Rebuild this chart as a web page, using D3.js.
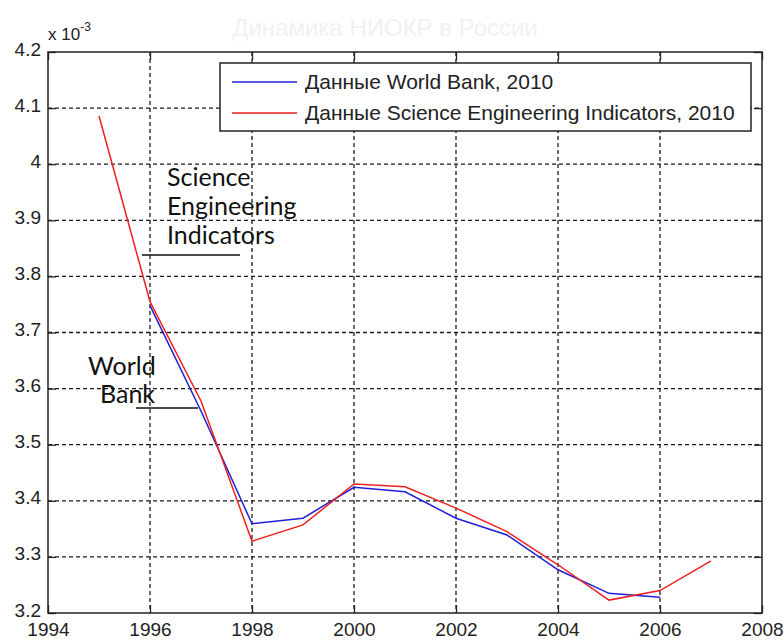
<!DOCTYPE html>
<html>
<head>
<meta charset="utf-8">
<script src="https://cdn.jsdelivr.net/npm/d3@7"></script>
<style>
  html, body { margin: 0; padding: 0; background: #fff; }
  svg { display: block; }
</style>
</head>
<body>
<svg id="chart" width="784" height="644"></svg>
<script>
// R&D intensity series, values in units of 1e-3
const seiYears  = [1995, 1996, 1997, 1998, 1999, 2000, 2001, 2002, 2003, 2004, 2005, 2006, 2007];
const seiValues = [4.086, 3.755, 3.578, 3.328, 3.357, 3.430, 3.425, 3.387, 3.345, 3.286, 3.223, 3.240, 3.293];
const wbYears   = [1996, 1997, 1998, 1999, 2000, 2001, 2002, 2003, 2004, 2005, 2006];
const wbValues  = [3.748, 3.560, 3.359, 3.369, 3.424, 3.416, 3.369, 3.339, 3.277, 3.235, 3.228];

const xTicks = [1994, 1996, 1998, 2000, 2002, 2004, 2006, 2008];
const yTicks = [3.2, 3.3, 3.4, 3.5, 3.6, 3.7, 3.8, 3.9, 4.0, 4.1, 4.2];

const seriesNames = ["Данные World Bank, 2010", "Данные Science Engineering Indicators, 2010"];
const seriesColors = ["#1f1fd6", "#f02020"];
const titleText = "Динамика НИОКР в России";

const svg = d3.select("#chart");
const plotLeft = 48, plotRight = 762, plotTop = 52, plotBottom = 613;

const x = d3.scaleLinear().domain([1994, 2008]).range([plotLeft, plotRight]);
const y = d3.scaleLinear().domain([3.2, 4.2]).range([plotBottom, plotTop]);

svg.append("rect").attr("width", 784).attr("height", 644).attr("fill", "#fff");

// faint title
svg.append("text")
  .attr("x", 385).attr("y", 36)
  .attr("text-anchor", "middle")
  .attr("font-family", "Liberation Sans, Arial, sans-serif")
  .attr("font-size", 24)
  .attr("fill", "#f1f1f1")
  .text(titleText);

// dotted grid
const grid = svg.append("g")
  .attr("stroke", "#1a1a1a")
  .attr("stroke-width", 1.3)
  .attr("stroke-dasharray", "4,3");
grid.selectAll("line.v")
  .data(xTicks.slice(1, -1))
  .join("line")
  .attr("class", "v")
  .attr("x1", d => x(d)).attr("x2", d => x(d))
  .attr("y1", plotTop).attr("y2", plotBottom);
grid.selectAll("line.h")
  .data(yTicks.slice(1, -1))
  .join("line")
  .attr("class", "h")
  .attr("x1", plotLeft).attr("x2", plotRight)
  .attr("y1", d => y(d)).attr("y2", d => y(d));

// data lines
const line = d3.line().x(d => x(d[0])).y(d => y(d[1]));
const wbData = wbYears.map((yr, i) => [yr, wbValues[i]]);
const seiData = seiYears.map((yr, i) => [yr, seiValues[i]]);

svg.append("path")
  .datum(wbData)
  .attr("d", line)
  .attr("fill", "none")
  .attr("stroke", seriesColors[0])
  .attr("stroke-width", 1.5);
svg.append("path")
  .datum(seiData)
  .attr("d", line)
  .attr("fill", "none")
  .attr("stroke", seriesColors[1])
  .attr("stroke-width", 1.5);

// axes with inward ticks on all four sides
const fmt = d => String(+d.toFixed(1));
const tickFont = "Liberation Sans, Arial, sans-serif";

const axL = svg.append("g").attr("transform", `translate(${plotLeft},0)`)
  .call(d3.axisLeft(y).tickValues(yTicks).tickSize(-8).tickPadding(7).tickFormat(fmt));
const axB = svg.append("g").attr("transform", `translate(0,${plotBottom})`)
  .call(d3.axisBottom(x).tickValues(xTicks).tickSize(-8).tickPadding(10).tickFormat(d3.format("d")));
const axT = svg.append("g").attr("transform", `translate(0,${plotTop})`)
  .call(d3.axisTop(x).tickValues(xTicks).tickSize(-8).tickFormat(""));
const axR = svg.append("g").attr("transform", `translate(${plotRight},0)`)
  .call(d3.axisRight(y).tickValues(yTicks).tickSize(-8).tickFormat(""));

[axL, axB, axT, axR].forEach(g => {
  g.select(".domain").remove();
  g.selectAll(".tick line").attr("stroke", "#222").attr("stroke-width", 1.3);
  g.selectAll(".tick text")
    .attr("font-family", tickFont)
    .attr("font-size", 19)
    .attr("fill", "#222");
});
// y labels sit a little above their tick
axL.selectAll(".tick text").attr("dy", "0.16em");

// axis box
svg.append("rect")
  .attr("x", plotLeft).attr("y", plotTop)
  .attr("width", plotRight - plotLeft).attr("height", plotBottom - plotTop)
  .attr("fill", "none")
  .attr("stroke", "#222")
  .attr("stroke-width", 1.5);

// exponent multiplier
const mult = svg.append("text")
  .attr("x", 48).attr("y", 40)
  .attr("font-family", tickFont)
  .attr("font-size", 17)
  .attr("fill", "#222");
mult.append("tspan").text("x 10");
mult.append("tspan").attr("font-size", 12).attr("dy", -9).text("-3");

// legend
const lg = svg.append("g");
lg.append("rect")
  .attr("x", 220).attr("y", 63)
  .attr("width", 531).attr("height", 68)
  .attr("fill", "#fff")
  .attr("stroke", "#222")
  .attr("stroke-width", 1.5);
seriesNames.forEach((name, i) => {
  const ly = 82 + i * 31;
  lg.append("line")
    .attr("x1", 232).attr("x2", 297)
    .attr("y1", ly).attr("y2", ly)
    .attr("stroke", seriesColors[i])
    .attr("stroke-width", 1.5);
  lg.append("text")
    .attr("x", 305).attr("y", ly + 7)
    .attr("font-family", tickFont)
    .attr("font-size", 21)
    .attr("fill", "#222")
    .text(name);
});

// callout labels
const noteFont = "Lato, sans-serif";
const sei = svg.append("text")
  .attr("font-family", noteFont)
  .attr("font-size", 25)
  .attr("fill", "#111");
["Science", "Engineering", "Indicators"].forEach((t, i) => {
  sei.append("tspan").attr("x", 167).attr("y", 186 + i * 29).text(t);
});
svg.append("line")
  .attr("x1", 142).attr("x2", 240).attr("y1", 255).attr("y2", 255)
  .attr("stroke", "#111").attr("stroke-width", 1.5);

const wb = svg.append("text")
  .attr("font-family", noteFont)
  .attr("font-size", 25)
  .attr("fill", "#111");
wb.append("tspan").attr("x", 88).attr("y", 375).text("World");
wb.append("tspan").attr("x", 100).attr("y", 403).text("Bank");
svg.append("line")
  .attr("x1", 136).attr("x2", 198).attr("y1", 408).attr("y2", 408)
  .attr("stroke", "#111").attr("stroke-width", 1.5);
</script>
</body>
</html>
